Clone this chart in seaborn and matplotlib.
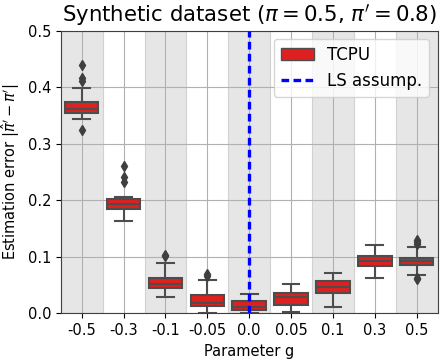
import numpy as np
import pandas as pd
import matplotlib
matplotlib.use("Agg")
import matplotlib.pyplot as plt
import matplotlib.patches as mpatches
from matplotlib.lines import Line2D
import seaborn as sns

# categories on the x axis (parameter g)
g_values = ["-0.5", "-0.3", "-0.1", "-0.05", "0.0", "0.05", "0.1", "0.3", "0.5"]

# estimation errors read off the boxes, one list per g
err_m05 = [0.324, 0.343, 0.348, 0.352, 0.355, 0.357, 0.359, 0.361, 0.362,
           0.365, 0.368, 0.371, 0.374, 0.398, 0.411, 0.417, 0.440]
err_m03 = [0.163, 0.170, 0.176, 0.181, 0.185, 0.187, 0.189, 0.191, 0.193,
           0.195, 0.198, 0.200, 0.203, 0.205, 0.233, 0.242, 0.261]
err_m01 = [0.029, 0.034, 0.038, 0.041, 0.044, 0.046, 0.048, 0.050, 0.051,
           0.053, 0.056, 0.060, 0.063, 0.072, 0.089, 0.101, 0.104]
err_m005 = [0.001, 0.005, 0.008, 0.011, 0.0135, 0.015, 0.016, 0.018, 0.019,
            0.021, 0.025, 0.029, 0.033, 0.045, 0.059, 0.066, 0.069]
err_0 = [0.000, 0.001, 0.003, 0.004, 0.0055, 0.007, 0.008, 0.010, 0.011,
         0.013, 0.015, 0.018, 0.022, 0.026, 0.029, 0.032, 0.035]
err_p005 = [0.002, 0.005, 0.008, 0.011, 0.014, 0.018, 0.022, 0.025, 0.028,
            0.030, 0.032, 0.034, 0.0365, 0.040, 0.044, 0.048, 0.052]
err_p01 = [0.012, 0.020, 0.027, 0.032, 0.0355, 0.038, 0.041, 0.044, 0.046,
           0.048, 0.051, 0.054, 0.0575, 0.061, 0.065, 0.069, 0.072]
err_p03 = [0.063, 0.070, 0.076, 0.080, 0.084, 0.086, 0.088, 0.090, 0.0925,
           0.094, 0.097, 0.099, 0.102, 0.106, 0.111, 0.116, 0.1215]
err_p05 = [0.061, 0.063, 0.068, 0.076, 0.081, 0.0855, 0.087, 0.088, 0.089,
           0.091, 0.092, 0.093, 0.094, 0.095, 0.097, 0.0985, 0.105, 0.117,
           0.1225, 0.127, 0.130]

all_errors = [err_m05, err_m03, err_m01, err_m005, err_0,
              err_p005, err_p01, err_p03, err_p05]
ls_g = "0.0"

rows = []
for g, errs in zip(g_values, all_errors):
    for e in errs:
        rows.append({"g": g, "error": e, "method": "TCPU"})
df = pd.DataFrame(rows)

fig = plt.figure(figsize=(4.48, 3.62), dpi=100)
ax = fig.add_axes([0.1357, 0.1345, 0.8411, 0.7805])

# alternating grey bands
for i in range(0, len(g_values), 2):
    ax.axvspan(i - 0.5, i + 0.5, facecolor="0.9", edgecolor="0.82",
               linewidth=0.8, zorder=0)

line_grey = "#3f3f3f"
sns.boxplot(data=df, x="g", y="error", hue="method", order=g_values,
            palette=["red"], width=0.8, linewidth=1.5, ax=ax,
            flierprops=dict(marker="d", markersize=5,
                            markerfacecolor=line_grey,
                            markeredgecolor=line_grey),
            legend=False)

ls_pos = g_values.index(ls_g)
ax.axvline(ls_pos, color="blue", linewidth=2.4, linestyle=(0, (2.3, 1.3)),
           zorder=3)

ax.grid(True, color="#b0b0b0", linewidth=0.8)
ax.set_xlim(-0.5, len(g_values) - 0.5)
ax.set_ylim(0, 0.5)
ax.set_yticks([0.0, 0.1, 0.2, 0.3, 0.4, 0.5])
ax.tick_params(labelsize=10.5)
for sp in ax.spines.values():
    sp.set_color("0.25")

ax.set_xlabel("Parameter g", fontsize=10.5)
ax.set_ylabel(r"Estimation error $|\hat{\pi}' - \pi'|$", fontsize=10.5)
ax.set_title(r"Synthetic dataset ($\pi = 0.5$, $\pi' = 0.8$)", fontsize=15.3)

handles = [mpatches.Patch(facecolor=sns.desaturate("red", 0.75), edgecolor="0.3"),
           Line2D([0], [0], color="blue", linewidth=2.4, linestyle=(0, (2.3, 1.3)))]
ax.legend(handles, ["TCPU", "LS assump."], loc="upper right", fontsize=12)

fig.savefig("out.png", dpi=100)
